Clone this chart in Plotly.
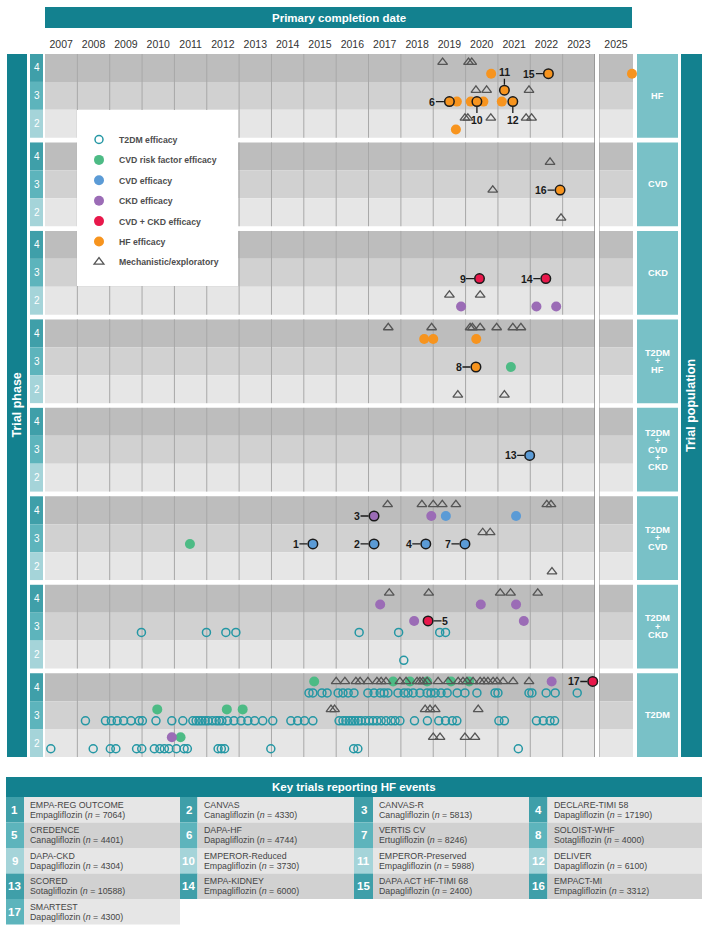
import plotly.graph_objects as go

# ---------------------------------------------------------------- data
POPULATIONS = ["HF", "CVD", "CKD", "T2DM+HF", "T2DM+CVD+CKD", "T2DM+CVD", "T2DM+CKD", "T2DM"]
POP_LABEL_LINES = [["HF"], ["CVD"], ["CKD"], ["T2DM", "+", "HF"],
                   ["T2DM", "+", "CVD", "+", "CKD"], ["T2DM", "+", "CVD"],
                   ["T2DM", "+", "CKD"], ["T2DM"]]
PHASES = [4, 3, 2]
YEAR_TICKS = list(range(2007, 2024))
YEAR_TICKS_EXT = [2025]

# series: (population, phase, lane) -> completion dates (decimal years)
T2DM_EFFICACY = {
    ("T2DM+CKD", 3, "low"): [2009.98, 2011.99, 2012.59, 2012.90, 2016.71, 2017.93, 2019.20, 2019.38],
    ("T2DM+CKD", 2, "low"): [2018.09],
    ("T2DM", 4, "low"): [2015.16, 2015.28, 2015.56, 2015.72, 2016.06, 2016.21, 2016.37, 2016.55,
                         2016.98, 2017.17, 2017.36, 2017.48, 2017.60, 2017.91, 2018.10, 2018.22,
                         2018.38, 2018.59, 2018.81, 2018.93, 2019.06, 2019.24, 2019.43, 2019.74,
                         2019.98, 2020.35, 2020.91, 2021.00, 2021.96, 2022.05, 2022.49, 2022.77,
                         2023.45],
    ("T2DM", 3, "low"): [2008.25, 2008.87, 2009.05, 2009.23, 2009.43, 2009.66, 2009.91, 2010.01,
                         2010.43, 2010.92, 2011.26, 2011.57, 2011.67, 2011.76, 2011.85, 2011.95,
                         2012.04, 2012.17, 2012.29, 2012.38, 2012.47, 2012.64, 2012.84, 2013.06,
                         2013.27, 2013.48, 2013.73, 2014.04, 2014.60, 2014.81, 2015.02, 2015.28,
                         2016.09, 2016.21, 2016.30, 2016.40, 2016.49, 2016.58, 2016.68, 2016.77,
                         2016.90, 2017.02, 2017.14, 2017.26, 2017.39, 2017.54, 2017.70, 2017.82,
                         2017.97, 2018.42, 2018.82, 2019.17, 2019.38, 2019.59, 2019.73, 2021.03,
                         2021.20, 2022.19, 2022.40, 2022.61, 2022.75],
    ("T2DM", 2, "low"): [2007.18, 2008.49, 2009.02, 2009.19, 2009.83, 2009.99, 2010.38, 2010.55,
                         2010.69, 2010.83, 2011.06, 2011.30, 2011.40, 2012.35, 2012.45, 2012.55,
                         2013.98, 2016.54, 2016.67, 2021.63],
}
CVD_RF_EFFICACY = {
    ("T2DM+HF", 3, "low"): [2021.40],
    ("T2DM+CVD", 3, "low"): [2011.48],
    ("T2DM", 4, "up"): [2015.32, 2017.76, 2018.28, 2018.81, 2019.55, 2020.11],
    ("T2DM", 3, "up"): [2010.47, 2012.62, 2013.11],
    ("T2DM", 2, "up"): [2011.19],
}
CVD_EFFICACY = {
    ("T2DM+CVD", 4, "low"): [2019.39, 2021.56],
}
CKD_EFFICACY = {
    ("CKD", 2, "low"): [2019.86, 2022.19, 2022.80],
    ("T2DM+CVD", 4, "low"): [2018.94],
    ("T2DM+CKD", 4, "low"): [2017.36, 2020.47, 2021.56],
    ("T2DM+CKD", 3, "up"): [2018.41, 2021.80],
    ("T2DM", 4, "up"): [2022.66],
    ("T2DM", 2, "up"): [2010.92],
}
CVD_CKD_EFFICACY = {}
HF_EFFICACY = {
    ("HF", 4, "low"): [2020.79, 2025.97],
    ("HF", 3, "low"): [2019.73, 2020.16, 2020.55, 2021.12],
    ("HF", 2, "low"): [2019.70],
    ("T2DM+HF", 4, "low"): [2018.72, 2019.00, 2020.33],
}
MECHANISTIC = {
    ("HF", 4, "up"): [2019.29, 2020.09, 2020.19],
    ("HF", 3, "up"): [2020.32, 2020.65, 2021.96],
    ("HF", 2, "up"): [2019.98, 2020.07, 2020.78, 2021.87, 2022.04],
    ("CVD", 4, "low"): [2022.61],
    ("CVD", 3, "low"): [2020.84],
    ("CVD", 2, "low"): [2022.95],
    ("CKD", 2, "up"): [2019.50, 2020.45],
    ("T2DM+HF", 4, "up"): [2017.61, 2018.95, 2020.14, 2020.21, 2020.45, 2020.96, 2021.46, 2021.71],
    ("T2DM+HF", 2, "low"): [2019.76, 2021.20],
    ("T2DM+CVD", 4, "up"): [2017.59, 2018.65, 2019.00, 2019.28, 2019.70, 2022.51, 2022.64],
    ("T2DM+CVD", 3, "up"): [2020.53, 2020.76],
    ("T2DM+CVD", 2, "low"): [2022.67],
    ("T2DM+CKD", 4, "up"): [2017.64, 2018.86, 2021.07, 2021.39, 2022.23],
    ("T2DM", 4, "up"): [2016.00, 2016.27, 2016.61, 2016.74, 2016.98, 2017.26, 2017.39, 2017.54,
                        2017.97, 2018.16, 2018.50, 2018.59, 2018.68, 2018.81, 2019.15, 2019.46,
                        2019.77, 2019.92, 2020.04, 2020.23, 2020.45, 2020.57, 2020.69, 2020.85,
                        2020.97, 2021.16, 2021.47, 2021.96],
    ("T2DM", 3, "up"): [2015.84, 2015.95, 2018.75, 2018.90, 2019.06, 2020.39],
    ("T2DM", 2, "up"): [2019.00, 2019.21, 2019.98, 2020.29],
}

CATEGORY_NAMES = ["T2DM efficacy", "CVD risk factor efficacy", "CVD efficacy", "CKD efficacy",
                  "CVD + CKD efficacy", "HF efficacy", "Mechanistic/exploratory"]
CATEGORY_SERIES = [T2DM_EFFICACY, CVD_RF_EFFICACY, CVD_EFFICACY, CKD_EFFICACY,
                   CVD_CKD_EFFICACY, HF_EFFICACY, MECHANISTIC]

# key trials reporting HF events (numbered markers)
KEY_NUMBERS = list(range(1, 18))
KEY_CATEGORY = ["CVD efficacy", "CVD efficacy", "CKD efficacy", "CVD efficacy", "CVD + CKD efficacy",
                "HF efficacy", "CVD efficacy", "HF efficacy", "CVD + CKD efficacy", "HF efficacy",
                "HF efficacy", "HF efficacy", "CVD efficacy", "CVD + CKD efficacy", "HF efficacy",
                "HF efficacy", "CVD + CKD efficacy"]
KEY_POP = ["T2DM+CVD", "T2DM+CVD", "T2DM+CVD", "T2DM+CVD", "T2DM+CKD", "HF", "T2DM+CVD", "T2DM+HF",
           "CKD", "HF", "HF", "HF", "T2DM+CVD+CKD", "CKD", "HF", "CVD", "T2DM"]
KEY_PHASE = [3, 3, 4, 3, 3, 3, 3, 3, 3, 3, 3, 3, 3, 3, 4, 3, 4]
KEY_LANE = ["low", "low", "low", "low", "up", "low", "low", "low", "low", "low", "up", "low",
            "low", "low", "low", "low", "up"]
KEY_YEAR = [2015.28, 2017.17, 2017.17, 2018.77, 2018.84, 2019.50, 2019.98, 2020.32, 2020.43,
            2020.35, 2021.20, 2021.46, 2021.98, 2022.48, 2022.56, 2022.92, 2023.93]
KEY_LABEL_SIDE = ["left", "left", "left", "left", "right", "left", "left", "left", "left",
                  "below", "above", "below", "left", "left", "left", "left", "left"]

TABLE_NAMES = ["EMPA-REG OUTCOME", "CANVAS", "CANVAS-R", "DECLARE-TIMI 58", "CREDENCE", "DAPA-HF",
               "VERTIS CV", "SOLOIST-WHF", "DAPA-CKD", "EMPEROR-Reduced", "EMPEROR-Preserved",
               "DELIVER", "SCORED", "EMPA-KIDNEY", "DAPA ACT HF-TIMI 68", "EMPACT-MI", "SMARTEST"]
TABLE_DRUGS = ["Empagliflozin", "Canagliflozin", "Canagliflozin", "Dapagliflozin", "Canagliflozin",
               "Dapagliflozin", "Ertugliflozin", "Sotagliflozin", "Dapagliflozin", "Empagliflozin",
               "Empagliflozin", "Dapagliflozin", "Sotagliflozin", "Empagliflozin", "Dapagliflozin",
               "Empagliflozin", "Dapagliflozin"]
TABLE_N = [7064, 4330, 5813, 17190, 4401, 4744, 8246, 4000, 4304, 3730, 5988, 6100, 10588, 6000,
           2400, 3312, 4300]

# ---------------------------------------------------------------- style / layout helpers
W, H = 709, 932
FONT = "Liberation Sans, Arial, Helvetica, sans-serif"
TEAL_DARK = "#13818f"
TEAL_LIGHT = "#79c1c7"
PHASE_BOX = {4: "#3f9fa9", 3: "#5db4bc", 2: "#a5d4d9"}
ROW_BG = {4: "#bdbdbd", 3: "#d1d1d1", 2: "#e6e6e6"}
GRID = "#a8a8a8"

CAT_STYLE = {
    "T2DM efficacy": dict(symbol="circle-open", size=8, color="#2497a4", line=dict(width=1.5, color="#2497a4")),
    "CVD risk factor efficacy": dict(symbol="circle", size=10, color="#4dbb85", line=dict(width=0)),
    "CVD efficacy": dict(symbol="circle", size=10, color="#5b9bd6", line=dict(width=0)),
    "CKD efficacy": dict(symbol="circle", size=10, color="#9b6cb6", line=dict(width=0)),
    "CVD + CKD efficacy": dict(symbol="circle", size=10, color="#e8184b", line=dict(width=0)),
    "HF efficacy": dict(symbol="circle", size=10, color="#f7941e", line=dict(width=0)),
    "Mechanistic/exploratory": dict(symbol="triangle-up-open", size=8.5, color="#555555",
                                    line=dict(width=1.3, color="#555555")),
}

# plot area in pixels
X_LEFT, X_MAIN_RIGHT, X_EXT_LEFT, X_EXT_RIGHT = 45, 595, 599, 633
Y_TOP, Y_BOTTOM = 54, 757
ROW_PX = 27.9
GAP_PX = 4.7
GSTEP = 3 + GAP_PX / ROW_PX
Y_MAX = (len(POPULATIONS) - 1) * GSTEP + 3
LANE = {"up": 0.295, "low": 0.705}


def px(x):
    return x / W


def py(y):
    return 1 - y / H


def ypos(pop, phase, lane):
    return POPULATIONS.index(pop) * GSTEP + PHASES.index(phase) + LANE[lane]


def label(x, y, text, size, color, xref="paper", yref="paper", xanchor="center", **kw):
    d = dict(xref=xref, yref=yref, x=x, y=y, text=text, showarrow=False, xanchor=xanchor,
             yanchor="middle", font=dict(family=FONT, size=size, color=color))
    d.update(kw)
    return d


fig = go.Figure()
shapes = []
annotations = []

# row backgrounds
for gi, pop in enumerate(POPULATIONS):
    for ri, ph in enumerate(PHASES):
        y0 = gi * GSTEP + ri
        shapes.append(dict(type="rect", xref="x", yref="y", x0=2007, x1=2024, y0=y0, y1=y0 + 1,
                           fillcolor=ROW_BG[ph], line=dict(width=0), layer="below"))
        shapes.append(dict(type="rect", xref="x2", yref="y", x0=2025, x1=2026, y0=y0, y1=y0 + 1,
                           fillcolor=ROW_BG[ph], line=dict(width=0), layer="below"))
        # phase label boxes
        shapes.append(dict(type="rect", xref="paper", yref="y", x0=px(30), x1=px(43), y0=y0, y1=y0 + 1,
                           fillcolor=PHASE_BOX[ph], line=dict(width=0), layer="below"))
        annotations.append(label(px(36.5), y0 + 0.5, str(ph), 10, "white", yref="y"))
    # year grid lines inside the group
    for yr in YEAR_TICKS[1:]:
        shapes.append(dict(type="line", xref="x", yref="y", x0=yr, x1=yr, y0=gi * GSTEP,
                           y1=gi * GSTEP + 3, line=dict(color=GRID, width=1), layer="below"))
    # population label boxes
    shapes.append(dict(type="rect", xref="paper", yref="y", x0=px(637), x1=px(678), y0=gi * GSTEP,
                       y1=gi * GSTEP + 3, fillcolor=TEAL_LIGHT, line=dict(width=0), layer="below"))
    lines = POP_LABEL_LINES[gi]
    for k, txt in enumerate(lines):
        annotations.append(label(px(657.5), gi * GSTEP + 1.5, "<b>%s</b>" % txt, 9.2, "white", yref="y",
                                 yshift=-(k - (len(lines) - 1) / 2) * 8.5))

# axis-break separator lines
shapes.append(dict(type="line", xref="x", yref="y", x0=2024, x1=2024, y0=0, y1=Y_MAX,
                   line=dict(color="#8f8f8f", width=1.6), layer="below"))
shapes.append(dict(type="line", xref="x2", yref="y", x0=2025, x1=2025, y0=0, y1=Y_MAX,
                   line=dict(color="#9c9c9c", width=1.2), layer="below"))

# side bars
shapes.append(dict(type="rect", xref="paper", yref="y", x0=px(7), x1=px(27), y0=0, y1=Y_MAX,
                   fillcolor=TEAL_DARK, line=dict(width=0), layer="below"))
shapes.append(dict(type="rect", xref="paper", yref="y", x0=px(681), x1=px(702), y0=0, y1=Y_MAX,
                   fillcolor=TEAL_DARK, line=dict(width=0), layer="below"))
annotations.append(label(px(17), Y_MAX / 2, "<b>Trial phase</b>", 12.5, "white", yref="y", textangle=-90))
annotations.append(label(px(691.5), Y_MAX / 2, "<b>Trial population</b>", 12.5, "white", yref="y",
                         textangle=-90))

# top header
shapes.append(dict(type="rect", xref="paper", yref="paper", x0=px(45), x1=px(632), y0=py(28), y1=py(7),
                   fillcolor=TEAL_DARK, line=dict(width=0), layer="below"))
annotations.append(label(px(338.5), py(17.5), "<b>Primary completion date</b>", 11.5, "white"))

# legend box
shapes.append(dict(type="rect", xref="paper", yref="paper", x0=px(77), x1=px(238), y0=py(286), y1=py(110),
                   fillcolor="white", line=dict(width=0), layer="above"))

# ---------------------------------------------------------------- markers
for name, series in zip(CATEGORY_NAMES, CATEGORY_SERIES):
    mx, my, ex, ey = [], [], [], []
    for (pop, phase, lane), years in series.items():
        for yr in years:
            if yr >= 2025:
                ex.append(yr)
                ey.append(ypos(pop, phase, lane))
            else:
                mx.append(yr)
                my.append(ypos(pop, phase, lane))
    if not mx:
        mx, my = [None], [None]
    fig.add_trace(go.Scatter(x=mx, y=my, mode="markers", name=name, legendgroup=name,
                             marker=CAT_STYLE[name], cliponaxis=False, hoverinfo="skip",
                             xaxis="x", yaxis="y"))
    if ex:
        fig.add_trace(go.Scatter(x=ex, y=ey, mode="markers", name=name, legendgroup=name,
                                 showlegend=False, marker=CAT_STYLE[name], cliponaxis=False,
                                 hoverinfo="skip", xaxis="x2", yaxis="y"))

# key trials
for name in CATEGORY_NAMES:
    idx = [i for i, c in enumerate(KEY_CATEGORY) if c == name]
    if not idx:
        continue
    st = dict(CAT_STYLE[name])
    st["size"] = 9.5
    st["line"] = dict(width=1.5, color="#1a1a1a")
    fig.add_trace(go.Scatter(x=[KEY_YEAR[i] for i in idx],
                             y=[ypos(KEY_POP[i], KEY_PHASE[i], KEY_LANE[i]) for i in idx],
                             mode="markers", marker=st, showlegend=False, cliponaxis=False,
                             hoverinfo="skip", xaxis="x", yaxis="y"))

OFFSETS = {"left": (-17, 0), "right": (17, 0), "above": (0, -18), "below": (0, 18)}
for i, num in enumerate(KEY_NUMBERS):
    ax, ay = OFFSETS[KEY_LABEL_SIDE[i]]
    if num >= 10 and ax != 0:
        ax = int(ax * 1.13)
    annotations.append(dict(xref="x", yref="y", x=KEY_YEAR[i], y=ypos(KEY_POP[i], KEY_PHASE[i], KEY_LANE[i]),
                            text="<b>%d</b>" % num, showarrow=True, arrowhead=0, arrowwidth=1.3,
                            arrowcolor="#1a1a1a", ax=ax, ay=ay, standoff=5.5, borderpad=0,
                            font=dict(family=FONT, size=10.5, color="#1a1a1a")))

# ---------------------------------------------------------------- key trials table
T_TOP, T_HEAD_BOTTOM, T_ROW_H = 777, 797, 25.5
shapes.append(dict(type="rect", xref="paper", yref="paper", x0=px(6), x1=px(702), y0=py(T_HEAD_BOTTOM),
                   y1=py(T_TOP), fillcolor=TEAL_DARK, line=dict(width=0), layer="below"))
annotations.append(label(px(354), py(787), "<b>Key trials reporting HF events</b>", 11.5, "white"))
COL_X = [(6, 24, 180), (180, 197.5, 354), (354, 373, 529), (529, 547.5, 702)]
ROW_NUM_BOX = [PHASE_BOX[4], PHASE_BOX[3], PHASE_BOX[2], PHASE_BOX[4], PHASE_BOX[3]]
ROW_CELL_BG = [ROW_BG[2], ROW_BG[3], ROW_BG[2], ROW_BG[3], ROW_BG[2]]
for i, num in enumerate(TABLE_N):
    r, c = divmod(i, 4)
    x0, xm, x1 = COL_X[c]
    top = T_HEAD_BOTTOM + r * T_ROW_H
    bot = top + T_ROW_H
    shapes.append(dict(type="rect", xref="paper", yref="paper", x0=px(x0), x1=px(xm), y0=py(bot), y1=py(top),
                       fillcolor=ROW_NUM_BOX[r], line=dict(width=0), layer="below"))
    shapes.append(dict(type="rect", xref="paper", yref="paper", x0=px(xm), x1=px(x1), y0=py(bot), y1=py(top),
                       fillcolor=ROW_CELL_BG[r], line=dict(width=0), layer="below"))
    annotations.append(label(px((x0 + xm) / 2), py(top + T_ROW_H / 2), "<b>%d</b>" % (i + 1), 11.5, "white"))
    annotations.append(label(px(xm + 4), py(top + 7.8), TABLE_NAMES[i], 8.8, "#454545", xanchor="left"))
    annotations.append(label(px(xm + 4), py(top + 17.6), "%s (<i>n</i> = %d)" % (TABLE_DRUGS[i], num),
                             8.8, "#454545", xanchor="left"))

# ---------------------------------------------------------------- layout
fig.update_layout(
    width=W, height=H, margin=dict(l=0, r=0, t=0, b=0),
    paper_bgcolor="white", plot_bgcolor="rgba(0,0,0,0)",
    font=dict(family=FONT),
    shapes=shapes, annotations=annotations,
    showlegend=True,
    legend=dict(x=px(79), y=py(125), xanchor="left", yanchor="top", bgcolor="rgba(0,0,0,0)",
                font=dict(family=FONT, size=8.7, color="#4d4d4d", weight="bold"),
                tracegroupgap=1.4, traceorder="grouped"),
    xaxis=dict(domain=[px(X_LEFT), px(X_MAIN_RIGHT)], range=[2007, 2024], side="top", anchor="y",
               tickvals=[y + 0.5 for y in YEAR_TICKS], ticktext=[str(y) for y in YEAR_TICKS],
               ticks="", showgrid=False, zeroline=False, showline=False, fixedrange=True,
               ticklabelstandoff=3,
               tickfont=dict(family=FONT, size=10.5, color="#333333")),
    xaxis2=dict(domain=[px(X_EXT_LEFT), px(X_EXT_RIGHT)], range=[2025, 2026], side="top", anchor="y",
                tickvals=[y + 0.5 for y in YEAR_TICKS_EXT], ticktext=[str(y) for y in YEAR_TICKS_EXT],
                ticks="", showgrid=False, zeroline=False, showline=False, fixedrange=True,
                ticklabelstandoff=3,
                tickfont=dict(family=FONT, size=10.5, color="#333333")),
    yaxis=dict(domain=[py(Y_BOTTOM), py(Y_TOP)], range=[Y_MAX, 0], visible=False, fixedrange=True),
)

fig.write_html("out.html", config={"displayModeBar": False},
               post_script="document.body.style.margin='0px';")
